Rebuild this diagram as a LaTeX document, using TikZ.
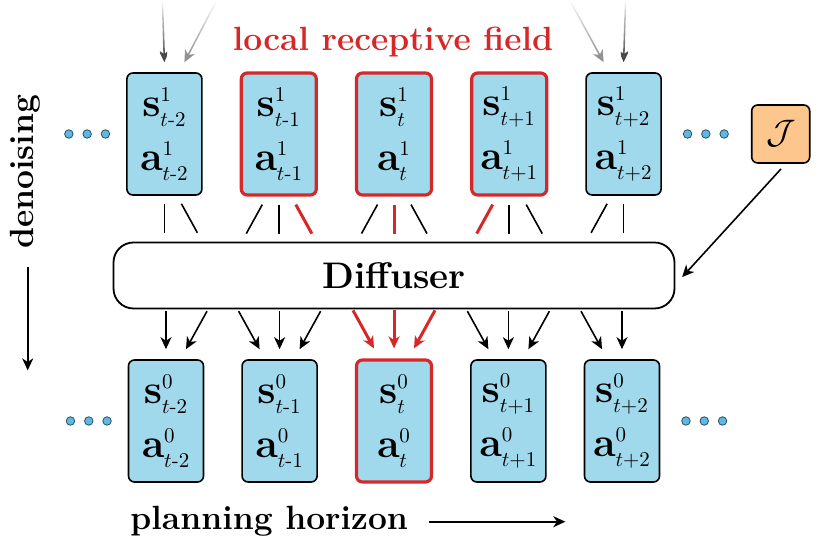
\RequirePackage{fix-cm}
\documentclass[tikz,border=0pt]{standalone}
\usepackage{amsmath,amssymb}
\usepackage{xcolor}
\usetikzlibrary{arrows.meta,positioning,calc,fadings}
\DeclareMathSizes{20.5}{20.5}{10.5}{7}
\definecolor{cellblue}{RGB}{160,216,236}
\definecolor{hotred}{RGB}{214,40,40}
\definecolor{jorange}{RGB}{252,198,140}
\definecolor{dotfill}{RGB}{96,184,222}
\definecolor{dotline}{RGB}{40,80,105}
\newcommand{\stact}[2]{$\mathbf{s}^{#1}_{#2}$\\$\mathbf{a}^{#1}_{#2}$}
\tikzset{
  cell/.style={draw, fill=cellblue, rounded corners=3pt, line width=0.8pt,
               minimum width=37.5pt, minimum height=61pt, inner sep=0pt,
               align=center, font=\fontsize{20.5}{27}\selectfont},
  hot/.style={draw=hotred, line width=1.6pt},
  diffuser/.style={draw, rounded corners=10pt, line width=0.9pt,
                   minimum width=280.5pt, minimum height=33pt,
                   font=\fontsize{18.5}{22}\selectfont\bfseries},
  jbox/.style={draw, fill=jorange, rounded corners=3pt, line width=0.8pt,
               minimum size=29pt, inner sep=0pt, font=\fontsize{17}{20}\selectfont},
  dot/.style={circle, draw=dotline, fill=dotfill, line width=0.4pt,
              minimum size=4.25pt, inner sep=0pt},
  lbl/.style={inner sep=0pt, font=\fontsize{16.8}{20}\selectfont\bfseries},
  arrow/.style={-{Stealth[length=6pt,width=5.5pt,inset=1.8pt]}, line width=0.8pt},
  hotarrow/.style={arrow, draw=hotred, fill=hotred, line width=1.5pt},
  link/.style={line width=0.8pt},
  hotlink/.style={draw=hotred, line width=1.5pt},
  feed/.style={arrow, draw=black!75, fill=black!75, path fading=north},
  faint/.style={draw=black!45, fill=black!45}
}
\begin{document}
\begin{tikzpicture}[x=0.5pt, y=0.5pt, node distance=18.5pt]
  \useasboundingbox (0,0) rectangle (831,560);
  \coordinate (top) at (0,560);

  % noisy plan
  \node[cell, hot] (u3) at (394,426) {\stact{1}{t}};
  \node[cell, hot, left=of u3] (u2) {\stact{1}{t\text{-}1}};
  \node[cell, left=of u2] (u1) {\stact{1}{t\text{-}2}};
  \node[cell, hot, right=of u3] (u4) {\stact{1}{t{+}1}};
  \node[cell, right=of u4] (u5) {\stact{1}{t{+}2}};

  % diffuser and denoised plan
  \node[diffuser, below=22.5pt of u3] (diff) {Diffuser};
  \node[cell, hot, below=24.5pt of diff] (d3) {\stact{0}{t}};
  \node[cell, left=of d3] (d2) {\stact{0}{t\text{-}1}};
  \node[cell, left=of d2] (d1) {\stact{0}{t\text{-}2}};
  \node[cell, right=of d3] (d4) {\stact{0}{t{+}1}};
  \node[cell, right=of d4] (d5) {\stact{0}{t{+}2}};

  \node[jbox, right=44.5pt of u5] (J) {$\mathcal{J}$};

  \foreach \row in {u,d} {
    \node[dot, left=8pt of \row1] (\row L1) {};
    \node[dot, left=4.5pt of \row L1] (\row L2) {};
    \node[dot, left=4.5pt of \row L2] (\row L3) {};
    \node[dot, right=10.5pt of \row5] (\row R1) {};
    \node[dot, right=4.5pt of \row R1] (\row R2) {};
    \node[dot, right=4.5pt of \row R2] (\row R3) {};
  }

  % labels
  \node[lbl, text=hotred, anchor=base] (lrf) at (393,509) {local receptive field};
  \node[lbl, anchor=base west] (plan) at (130,30) {planning horizon};
  \node[lbl, rotate=90, anchor=base] (deno) at (33,388) {denoising};
  \draw[arrow] ([xshift=10.5pt]plan.east) -- ++(68pt,0);
  \draw[arrow] ($(deno.west)+(1.5pt,-9pt)$) -- ++(0,-51.5pt);

  % incoming from outside the window
  \draw[feed] ($(u1.north |- top)+(-1pt,0)$) -- ([yshift=5pt]u1.north);
  \draw[feed, faint] ($(u1.north |- top)+(26.25pt,0)$) -- ([xshift=10pt,yshift=5pt]u1.north);
  \draw[feed] ($(u5.north |- top)+(1pt,0)$) -- ([yshift=5pt]u5.north);
  \draw[feed, faint] ($(u5.north |- top)+(-27pt,0)$) -- ([xshift=-10pt,yshift=5pt]u5.north);

  % into the diffuser
  \foreach \i/\s in {1/link,2/link,3/hotlink,4/link,5/link}
    \draw[\s] ([yshift=-4pt]u\i.south) -- ++(0,-14.5pt);
  \foreach \i/\s in {2/link,3/link,4/hotlink,5/link}
    \draw[\s] ([xshift=-8.25pt,yshift=-4pt]u\i.south) -- ++(-8pt,-14.5pt);
  \foreach \i/\s in {1/link,2/hotlink,3/link,4/link}
    \draw[\s] ([xshift=8.5pt,yshift=-4pt]u\i.south) -- ++(8pt,-14.5pt);

  % out of the diffuser
  \foreach \i/\s in {1/arrow,2/arrow,3/hotarrow,4/arrow,5/arrow}
    \draw[\s] ([yshift=24pt]d\i.north) -- ([yshift=5pt]d\i.north);
  \foreach \i/\s in {2/arrow,3/hotarrow,4/arrow,5/arrow}
    \draw[\s] ([xshift=-20.5pt,yshift=24pt]d\i.north) -- ([xshift=-10pt,yshift=5pt]d\i.north);
  \foreach \i/\s in {1/arrow,2/arrow,3/hotarrow,4/arrow}
    \draw[\s] ([xshift=20.5pt,yshift=24pt]d\i.north) -- ([xshift=10pt,yshift=5pt]d\i.north);

  \draw[arrow, shorten <=3.5pt, shorten >=5pt] ([xshift=2.5pt]J.south) -- ([yshift=-4.5pt]diff.east);
\end{tikzpicture}
\end{document}
